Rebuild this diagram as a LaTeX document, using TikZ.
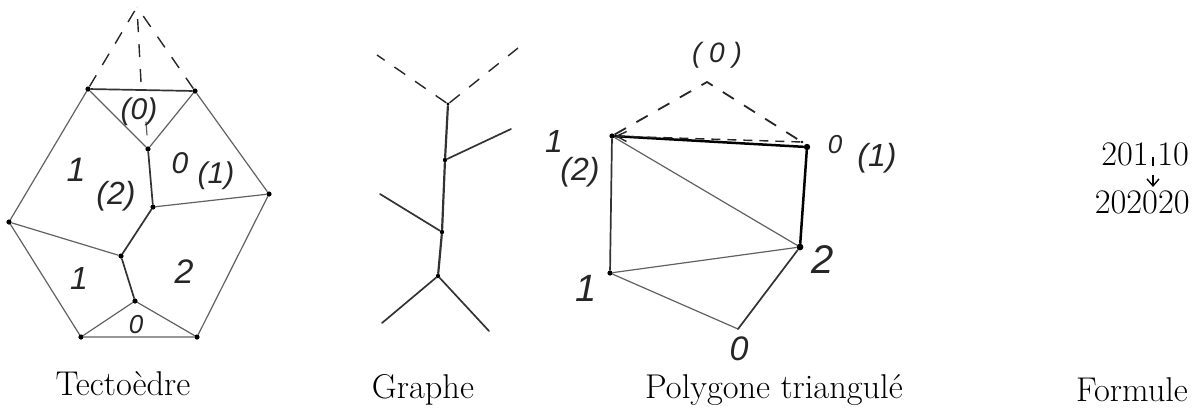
\documentclass[tikz,border=0pt]{standalone}
\usepackage{fontspec}
\newfontfamily\handfont{Liberation Sans}[ItalicFont={Liberation Sans Italic}]
\usetikzlibrary{arrows.meta}
\tikzset{
  thin edge/.style={draw=black!62,line width=0.6pt,line cap=round},
  mid edge/.style={draw=black!80,line width=0.85pt,line cap=round},
  bold edge/.style={draw=black,line width=1.25pt,line cap=round},
  dash edge/.style={draw=black!85,line width=0.7pt,dash pattern=on 6.5pt off 6pt},
  hand/.style={font=\handfont\itshape\fontsize{#1}{#1}\selectfont,inner sep=0pt,text=black!85},
  hand/.default=14pt,
  caption/.style={font=\fontsize{17.2pt}{18pt}\selectfont,inner sep=0pt,anchor=base},
  dot/.style={circle,fill=black,inner sep=0pt,minimum size=#1},
  dot/.default=2.6pt
}
\begin{document}
\begin{tikzpicture}[x=0.5pt,y=-0.5pt]
\useasboundingbox (0,0) rectangle (1198,409);
% Tectoedre
\node[dot] (A) at (88,89) {};
\node[dot] (B) at (195,91) {};
\node[dot] (C) at (148,149) {};
\node[dot] (D) at (153,207) {};
\node[dot] (E) at (269,194) {};
\node[dot] (F) at (9,222) {};
\node[dot] (G) at (121,256) {};
\node[dot] (H) at (135,301) {};
\node[dot] (I) at (81,337) {};
\node[dot] (J) at (197,337) {};
\coordinate (Ap) at (137,7);
\coordinate (Am) at (141,82);
\coordinate (T1) at (146,122);
\coordinate (T2) at (147,135);
\draw[mid edge] (A)--(B);
\draw[thin edge] (A)--(C) (B)--(C) (D)--(E) (F)--(G) (H)--(J) (H)--(I) (A)--(F) (F)--(I) (B)--(E) (E)--(J) (I)--(J);
\draw[mid edge] (C)--(D) (D)--(G) (G)--(H);
\draw[dash edge] (A)--(Ap) (B)--(Ap) (Am)--(Ap);
\draw[thin edge] (T1)--(T2);
\node[hand=15pt] (t1) at (139,112) {(0)};
\node[hand=17pt] (t2) at (76,170) {1};
\node[hand=16pt] (t3) at (116,196) {(2)};
\node[hand=15pt] (t4) at (180,163) {0};
\node[hand=15pt] (t5) at (216,176) {(1)};
\node[hand=16pt] (t6) at (79,278) {1};
\node[hand=17pt] (t7) at (184,272) {2};
\node[hand=13pt] (t8) at (136,325) {0};
\node[caption] (c1) at (123,395) {Tectoèdre};
% Graphe
\node[dot=1.6pt] (g0) at (448,104) {};
\node[dot=2.2pt] (g1) at (445,160) {};
\node[dot=2.2pt] (g2) at (442,232) {};
\node[dot=2.2pt] (g3) at (438,276) {};
\coordinate (ga) at (377,55);
\coordinate (gb) at (518,48);
\coordinate (gc) at (511,129);
\coordinate (gd) at (380,194);
\coordinate (ge) at (382,323);
\coordinate (gf) at (489,331);
\draw[dash edge] (g0)--(ga) (g0)--(gb);
\draw[mid edge,line width=1.1pt] (g0)--(g1)--(g2)--(g3);
\draw[mid edge] (g1)--(gc) (g2)--(gd) (g3)--(ge) (g3)--(gf);
\node[caption] (c2) at (423,398) {Graphe};
% Polygone
\coordinate (P) at (707,82);
\node[dot] (L) at (612,136) {};
\node[dot=3.2pt] (R) at (807,147) {};
\node[dot=1.3pt] (R0) at (802,142) {};
\node[dot=3.4pt] (S) at (800,247) {};
\node[dot] (O1) at (610,273) {};
\coordinate (O0) at (738,329);
\draw[bold edge] (L)--(R) (R)--(S);
\draw[thin edge] (L)--(S) (O1)--(S) (O1)--(O0);
\draw[mid edge] (L)--(O1) (O0)--(S);
\draw[dash edge,line width=0.9pt] (L)--(P)--(R0);
\draw[dash edge,dash pattern=on 4.5pt off 3.5pt,-{Straight Barb[length=5pt,width=5pt]}] (R0)--(L);
\node[hand=14pt] (p1) at (717,55) {( 0 )};
\node[hand=16pt] (p2) at (554,141) {1};
\node[hand=16pt] (p3) at (580,172) {(2)};
\node[hand=13pt] (p4) at (835,145) {0};
\node[hand=16pt] (p5) at (877,158) {(1)};
\node[hand=20pt] (p6) at (823,260) {2};
\node[hand=19pt] (p7) at (586,288) {1};
\node[hand=17pt] (p8) at (739,349) {0};
\node[caption] (c3) at (774,398) {Polygone triangulé};
% Formule
\node[caption,anchor=base east] (f1) at (1149,165) {201};
\node[caption,anchor=base west] (f2) at (1157,165) {10};
\node[caption,anchor=base east] (f3) at (1190,213) {202020};
\coordinate (a0) at (1153,157);
\coordinate (a1) at (1153,166);
\coordinate (a2) at (1153,175);
\coordinate (a3) at (1153,187);
\draw[line width=0.7pt] (a0)--(a1);
\draw[line width=0.7pt,-{Straight Barb[length=3.5pt,width=6pt]}] (a2)--(a3);
\node[caption] (c4) at (1132,401) {Formule};
\end{tikzpicture}
\end{document}
